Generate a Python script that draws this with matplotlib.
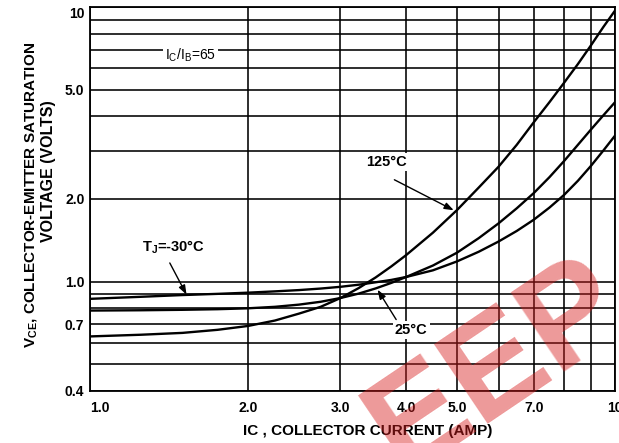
import matplotlib
matplotlib.use("Agg")
import matplotlib.pyplot as plt
from matplotlib.ticker import FixedLocator, NullFormatter

plt.rcParams["font.family"] = ["Liberation Sans", "DejaVu Sans"]
plt.rcParams["mathtext.fontset"] = "custom"
plt.rcParams["mathtext.rm"] = "Liberation Sans"
plt.rcParams["mathtext.bf"] = "Liberation Sans:bold"
plt.rcParams["mathtext.default"] = "bf"

# Collector current (A)
ic = [1.0, 1.25, 1.5, 1.75, 2.0, 2.25, 2.5, 2.75, 3.0, 3.25, 3.5, 3.75, 4.0,
      4.5, 5.0, 5.5, 6.0, 6.5, 7.0, 7.5, 8.0, 8.5, 9.0, 9.5, 10.0]

# Collector-emitter saturation voltage (V) at each junction temperature
vce_125 = [0.632, 0.641, 0.651, 0.668, 0.690, 0.722, 0.765, 0.810, 0.872, 0.948,
           1.036, 1.137, 1.249, 1.508, 1.822, 2.20, 2.62, 3.15, 3.80, 4.50, 5.30,
           6.20, 7.25, 8.45, 9.70]
vce_25 = [0.785, 0.787, 0.790, 0.794, 0.800, 0.810, 0.825, 0.845, 0.872, 0.905,
          0.945, 0.990, 1.04, 1.145, 1.275, 1.44, 1.63, 1.85, 2.10, 2.40, 2.75,
          3.15, 3.58, 4.03, 4.50]
vce_m30 = [0.866, 0.881, 0.894, 0.903, 0.912, 0.922, 0.932, 0.944, 0.958, 0.975,
           0.995, 1.015, 1.04, 1.10, 1.185, 1.285, 1.40, 1.53, 1.68, 1.86, 2.07,
           2.33, 2.64, 3.00, 3.40]

x_ticks = [1.0, 2.0, 3.0, 4.0, 5.0, 7.0, 10.0]
x_tick_labels = ["1.0", "2.0", "3.0", "4.0", "5.0", "7.0", "10"]
x_minor = [6.0, 8.0, 9.0]
y_ticks = [0.4, 0.7, 1.0, 2.0, 5.0, 10.0]
y_tick_labels = ["0.4", "0.7", "1.0", "2.0", "5.0", "10"]
y_minor = [0.5, 0.6, 0.8, 0.9, 3.0, 4.0, 6.0, 7.0, 8.0, 9.0]

fig = plt.figure(figsize=(6.19, 4.43), dpi=100)
ax = fig.add_axes([0.1454, 0.1174, 0.8481, 0.8668])
ax.set_xscale("log")
ax.set_yscale("log")
ax.set_xlim(1.0, 10.0)
ax.set_ylim(0.4, 10.0)

ax.xaxis.set_major_locator(FixedLocator(x_ticks))
ax.xaxis.set_minor_locator(FixedLocator(x_minor))
ax.yaxis.set_major_locator(FixedLocator(y_ticks))
ax.yaxis.set_minor_locator(FixedLocator(y_minor))
ax.xaxis.set_minor_formatter(NullFormatter())
ax.yaxis.set_minor_formatter(NullFormatter())
ax.set_xticklabels(x_tick_labels)
ax.set_yticklabels(y_tick_labels)

ax.tick_params(which="both", length=0)
ax.tick_params(axis="x", pad=7)
ax.tick_params(axis="y", pad=4)
for lab in ax.get_xticklabels() + ax.get_yticklabels():
    lab.set_fontweight("bold")
    lab.set_fontsize(10)
ax.get_xticklabels()[0].set_ha("left")
ax.get_yticklabels()[-1].set_va("top")

ax.grid(True, which="both", color="black", linewidth=1.15)
for s in ax.spines.values():
    s.set_linewidth(1.3)
    s.set_color("black")

for v in (vce_125, vce_25, vce_m30):
    ax.plot(ic, v, color="black", linewidth=1.7, zorder=3)

ax.text(1.556, 6.69, r"I$_{\mathrm{C}}$/I$_{\mathrm{B}}$=65", fontsize=10,
        ha="center", va="center", zorder=4,
        bbox=dict(facecolor="white", edgecolor="none", pad=1.5))

lbl = dict(fontsize=10.5, fontweight="bold", ha="center", va="center", zorder=4)
ax.text(3.67, 2.73, "125°C",
        bbox=dict(facecolor="white", edgecolor="none", pad=1.5), **lbl)
ax.text(1.445, 1.33, r"T$_J$=-30°C", **lbl)
ax.text(4.09, 0.669, "25°C",
        bbox=dict(facecolor="white", edgecolor="none", pad=1.5), **lbl)

arrow = dict(arrowstyle="-|>,head_length=0.55,head_width=0.2", color="black",
             lw=1.0, shrinkA=0, shrinkB=0)
ax.annotate("", xy=(4.93, 1.82), xytext=(3.80, 2.35), arrowprops=arrow, zorder=4)
ax.annotate("", xy=(1.527, 0.897), xytext=(1.419, 1.17), arrowprops=arrow, zorder=4)
ax.annotate("", xy=(3.53, 0.935), xytext=(3.83, 0.728), arrowprops=arrow, zorder=4)

fig.text(0.050, 0.56, r"V$_{CE}$, COLLECTOR-EMITTER SATURATION", rotation=90,
         fontsize=11, fontweight="bold", ha="center", va="center")
fig.text(0.079, 0.614, "VOLTAGE (VOLTS)", rotation=90,
         fontsize=11.5, fontweight="bold", ha="center", va="center")
fig.text(0.594, 0.027, "IC , COLLECTOR CURRENT (AMP)",
         fontsize=11, fontweight="bold", ha="center", va="center")

# red stamp across the lower right corner
fig.text(0.805, 0.17, "EEP", color="#d81e1e", alpha=0.45, fontsize=100,
         fontweight="bold", rotation=34, ha="center", va="center", zorder=10)

fig.savefig("out.png", dpi=100)
